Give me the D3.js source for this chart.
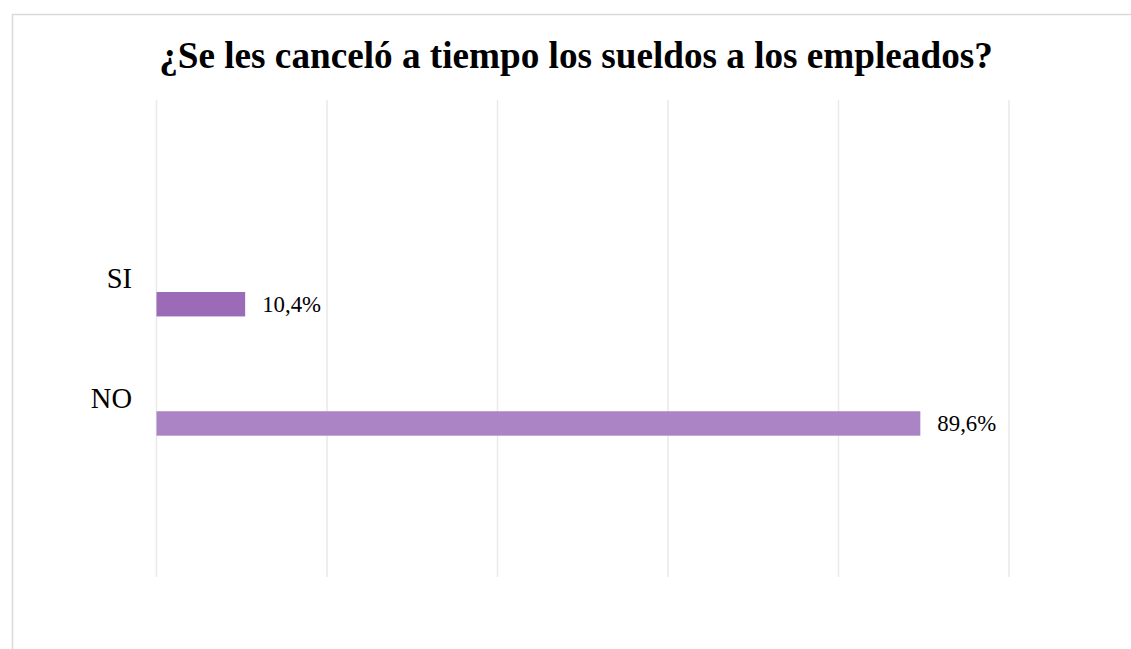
<!DOCTYPE html>
<html>
<head>
<meta charset="utf-8">
<script src="https://cdn.jsdelivr.net/npm/d3@7/dist/d3.min.js"></script>
<style>
  html, body { margin: 0; padding: 0; background: #ffffff; overflow: hidden; }
  svg { display: block; }
</style>
</head>
<body>
<svg id="chart" width="1131" height="649"></svg>
<script>
const title = "¿Se les canceló a tiempo los sueldos a los empleados?";
const categories = ["SI", "NO"];
const values = [10.4, 89.6];
const valueLabels = ["10,4%", "89,6%"];
const barColors = ["#9b6bb8", "#ab84c6"];
const xTicks = [0, 20, 40, 60, 80, 100];

const svg = d3.select("#chart");
const font = "'Liberation Serif', 'Times New Roman', serif";

// outer frame
svg.append("rect")
  .attr("x", 12.5).attr("y", 14.5)
  .attr("width", 1300).attr("height", 800)
  .attr("fill", "#ffffff")
  .attr("stroke", "#d9d9d9").attr("stroke-width", 1.5);

const plot = { left: 156.5, right: 1009, top: 100, bottom: 577 };

const x = d3.scaleLinear().domain([0, 100]).range([plot.left, plot.right]);
const y = d3.scaleBand().domain(categories)
  .range([plot.top, plot.bottom])
  .paddingInner(0).paddingOuter(1);

// gridlines
svg.append("g").selectAll("line").data(xTicks).join("line")
  .attr("x1", d => x(d)).attr("x2", d => x(d))
  .attr("y1", plot.top).attr("y2", plot.bottom)
  .attr("stroke", "#e9e9e9").attr("stroke-width", 1.5);

// title
svg.append("text")
  .attr("x", 576).attr("y", 68)
  .attr("text-anchor", "middle")
  .attr("font-family", font).attr("font-weight", "bold")
  .attr("font-size", 37.2).attr("fill", "#000")
  .text(title);

const bw = y.bandwidth();
const barTop = c => y(c) + bw * 0.61;
const barH = bw * 0.205;

// bars
svg.append("g").selectAll("rect").data(categories).join("rect")
  .attr("x", x(0))
  .attr("y", c => barTop(c))
  .attr("width", (c, i) => x(values[i]) - x(0))
  .attr("height", barH)
  .attr("fill", (c, i) => barColors[i]);

// value labels
svg.append("g").selectAll("text").data(categories).join("text")
  .attr("x", (c, i) => x(values[i]) + 17)
  .attr("y", c => barTop(c) + barH / 2)
  .attr("dy", "0.35em")
  .attr("font-family", font).attr("font-size", 22.8).attr("fill", "#000")
  .text((c, i) => valueLabels[i]);

// category labels
svg.append("g").selectAll("text").data(categories).join("text")
  .attr("x", 132)
  .attr("y", c => y(c) + bw / 2)
  .attr("dy", "0.33em")
  .attr("text-anchor", "end")
  .attr("font-family", font).attr("font-size", 28.5).attr("fill", "#000")
  .text(c => c);
</script>
</body>
</html>
